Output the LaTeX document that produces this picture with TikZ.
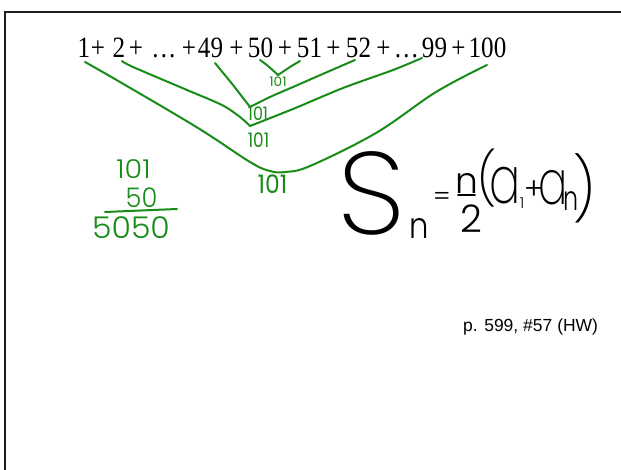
\documentclass[tikz,border=0pt]{standalone}
\usepackage{fontspec}
\setmainfont{Liberation Serif}
\newfontfamily\serifc[FakeStretch=0.85]{Liberation Serif}
\newfontfamily\arialf{Liberation Sans}
\newcommand\trydef[3]{\IfFontExistsTF{#2}{\newfontfamily#1{#2}}{#3}}
\trydef\hxl{Poppins ExtraLight}{\trydef\hxl{Poppins Thin}{\trydef\hxl{Lato Light}{\newfontfamily\hxl{Poppins}}}}
\trydef\hlight{Poppins Light}{\trydef\hlight{Poppins ExtraLight}{\newfontfamily\hlight{Poppins}}}
\newfontfamily\hreg{Poppins}
\definecolor{pen}{RGB}{24,140,24}
\definecolor{framec}{RGB}{30,30,30}
\begin{document}
\begin{tikzpicture}[x=1pt,y=-1pt,
  tok/.style={inner sep=0pt, font=\serifc\fontsize{29.5}{30}\selectfont, anchor=base},
  grn/.style={draw=pen, line width=2pt, line cap=round, line join=round},
  glab/.style={inner sep=0pt, text=pen},
  blk/.style={inner sep=0pt, text=black}]
\useasboundingbox (0,0) rectangle (621,470);
\fill[white] (0,0) rectangle (621,470);
\draw[line width=2pt, framec] (5,470) -- (5,12) -- (621,12);

% top sum
\node[tok] (t1) at (84,58) {1};
\node[tok] (p1) at (98,58) {+};
\node[tok] (t2) at (119,58) {2};
\node[tok] (p2) at (136,58) {+};
\node[tok] (d1) at (164,58) {…};
\node[tok] (p3) at (189,58) {+};
\node[tok] (t49) at (210.5,58) {49};
\node[tok] (p4) at (236.5,58) {+};
\node[tok] (t50) at (260.5,58) {50};
\node[tok] (p5) at (285,58) {+};
\node[tok] (t51) at (309.5,58) {51};
\node[tok] (p6) at (333.5,58) {+};
\node[tok] (t52) at (358.5,58) {52};
\node[tok] (p7) at (383.5,58) {+};
\node[tok] (d2) at (406.5,58) {…};
\node[tok] (t99) at (434.5,58) {99};
\node[tok] (p8) at (458.5,58) {+};
\node[tok] (t100) at (487.5,58) {100};

% vertices
\coordinate (v1a) at (270,171);
\coordinate (v2) at (250,126);
\coordinate (v3) at (250,107);
\coordinate (v4) at (278,75);

% green pairing curves
\draw[grn] plot[smooth, tension=0.6] coordinates {(85,62) (120,82) (198,128) (250,162) (v1a) (285,172) (310,166) (376,133) (436,92) (487,65)};
\draw[grn] plot[smooth] coordinates {(122,61) (133,67) (187,90) (222,105) (240,117) (v2)};
\draw[grn] plot[smooth] coordinates {(v2) (293,109) (343,88) (393,70) (422,58)};
\draw[grn] plot[smooth] coordinates {(215,63) (224,74) (233,85) (v3)};
\draw[grn] plot[smooth] coordinates {(v3) (270,97) (293,87) (325,73) (355,60)};
\draw[grn] plot[smooth] coordinates {(260,60) (268,66) (v4)};
\draw[grn] plot[smooth] coordinates {(v4) (290,67) (300,61)};

% green labels
\node[glab, font=\hreg\fontsize{13}{13}\selectfont] (l4) at (278,82) {\scalebox{1.05}[1]{101}};
\node[glab, font=\hreg\fontsize{18.5}{19}\selectfont] (l3) at (258,113.5) {\scalebox{0.86}[1]{101}};
\node[glab, font=\hreg\fontsize{20}{20}\selectfont] (l2) at (258.5,140) {\scalebox{0.84}[1]{101}};
\node[glab, font=\hreg\fontsize{25.5}{26}\selectfont] (l1) at (272.5,184) {\scalebox{0.92}[1]{101}};

% left multiplication
\node[glab, font=\hlight\fontsize{26}{26}\selectfont] (m1) at (133.5,169) {\scalebox{1.1}[1]{101}};
\node[glab, font=\hlight\fontsize{27}{27}\selectfont] (m2) at (141.5,197.5) {\scalebox{0.95}[1]{50}};
\coordinate (r1) at (105,212);
\coordinate (r2) at (177,209);
\draw[grn] (r1) -- (r2);
\node[glab, font=\hlight\fontsize{30}{30}\selectfont] (m3) at (131,227.5) {\scalebox{1.05}[1]{5050}};

% formula
\node[blk, font=\hxl\fontsize{117}{117}\selectfont] (S) at (372,193) {\scalebox{1.05}[1]{S}};
\node[blk, font=\hlight\fontsize{36}{36}\selectfont] (Sn) at (419,228) {\scalebox{0.85}[1]{n}};
\node[blk, font=\hlight\fontsize{26}{26}\selectfont] (eq) at (442,199) {=};
\node[blk, font=\hlight\fontsize{36}{36}\selectfont] (num) at (466.5,183) {n};
\coordinate (b1) at (458,195);
\coordinate (b2) at (475,195);
\draw[line width=1.8pt, line cap=round] (b1) -- (b2);
\node[blk, font=\hlight\fontsize{38}{38}\selectfont] (den) at (471,218.5) {2};
\node[blk, font=\hxl\fontsize{52}{52}\selectfont] (lp) at (487.5,178.5) {(};
\node[blk, font=\hxl\fontsize{66}{66}\selectfont] (a1) at (505.5,186) {\scalebox{0.7}[1]{a}};
\node[blk, font=\hlight\fontsize{15}{15}\selectfont] (s1) at (522,203) {1};
\node[blk, font=\hlight\fontsize{30}{30}\selectfont] (pl) at (534,190) {+};
\node[blk, font=\hxl\fontsize{62}{62}\selectfont] (a2) at (553,187.5) {\scalebox{0.7}[1]{a}};
\node[blk, font=\hlight\fontsize{34}{34}\selectfont] (s2) at (571,201) {\scalebox{0.7}[1]{n}};
\node[blk, font=\hxl\fontsize{62}{62}\selectfont] (rp) at (584,188.5) {)};

% note
\node[inner sep=0pt, anchor=base west, font=\arialf\fontsize{17.5}{18}\selectfont] (hw) at (463,331) {p. 599, \#57 (HW)};
\end{tikzpicture}
\end{document}
